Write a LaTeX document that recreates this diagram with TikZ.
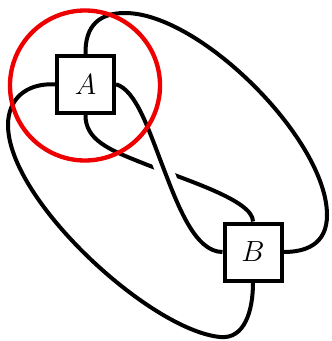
\documentclass[tikz,border=0pt]{standalone}
\usepackage{xcolor}
\definecolor{cInk}{HTML}{000000}
\definecolor{cRing}{HTML}{EE0000}
\usepackage{tikz}
\usetikzlibrary{backgrounds}
\tikzset{
  node-box/.style={draw=cInk,line width=1.2mm,fill=white,
    minimum size=17.1mm,inner sep=0pt,font=\fontsize{27}{32}\selectfont},
  strand/.style={draw=cInk,line width=1.2mm},
  % the over strand clears a gap in the one below it
  strand-over/.style={strand,preaction={draw=white,line width=5.4mm}},
  ring/.style={draw=cRing,line width=1.3mm},
}
\begin{document}
\begin{tikzpicture}[x=0.3mm,y=-0.3mm]
  \useasboundingbox (0,0) rectangle (331,341);
  \node[node-box] (A) at (85.5,84.3) {$A$};
  \node[node-box] (B) at (253,252) {$B$};
  \begin{scope}[on background layer]
    \draw[strand] (A.north) .. controls (85,25) and (100,13) .. (125,13)
      .. controls (200,13) and (327,140) .. (327,215)
      .. controls (327,245) and (305,252) .. (B.east);
    \draw[strand] (A.west) .. controls (25,83) and (8,100) .. (8,125)
      .. controls (8,200) and (150,330) .. (220,337)
      .. controls (245,339.5) and (253,310) .. (B.south);
    \draw[strand] (A.south) .. controls (85,140) and (110,150) .. (140,162)
      .. controls (185,180) and (253,200) .. (B.north);
    \draw[strand-over] (A.east) .. controls (136,90) and (148.6,129.7) .. (163,167)
      .. controls (178,206) and (195,252) .. (B.west);
  \end{scope}
  \draw[ring] (85,85.5) circle (75);
\end{tikzpicture}
\end{document}
